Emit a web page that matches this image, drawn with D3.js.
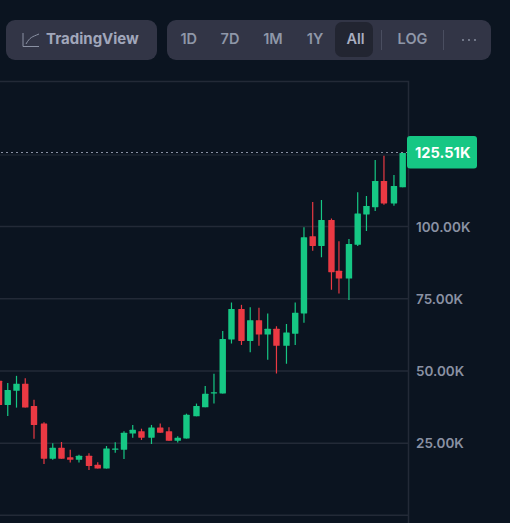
<!DOCTYPE html>
<html><head><meta charset="utf-8">
<script src="https://cdn.jsdelivr.net/npm/d3@7"></script>
<style>html,body{margin:0;padding:0;background:#0b1420;overflow:hidden}svg{display:block}text{font-family:Inter,sans-serif}</style>
</head><body><svg id="c" width="510" height="523"></svg>
<script>
const candleDay=[0,28,56,84,112,144,172,200,228,256,288,316,344,372,400,428,456,488,516,544,572,600,632,660,688,716,744,776,804,832,860,888,920,948,976,1004,1032,1064,1088,1120,1148,1176,1204,1232,1264,1292];
const openK=[46.6,38.2,43.1,45.6,37.9,31.8,19.6,23.4,20.1,19.2,20.6,17.5,16.2,22.7,22.7,28.3,29.1,26.9,30.4,29.1,25.8,26.6,34.3,37.4,42.2,42.2,60.9,71.5,60.4,67.6,62.6,64.6,58.7,62.9,69.9,96.7,93.3,102.3,84.7,82.0,93.7,104.2,106.7,115.8,108.0,113.6];
const closeK=[38.2,43.4,45.6,37.3,31.3,19.6,23.4,19.6,19.2,20.6,17.1,16.2,23.1,23.1,28.6,29.6,26.9,30.4,28.6,25.8,26.9,34.8,37.9,42.1,42.6,61.1,71.5,60.4,67.6,62.6,64.6,58.7,63.3,70.2,96.3,93.3,102.3,84.2,82.0,94.0,104.5,107.1,115.8,108.0,114.1,125.51];
const highK=[47.6,45.8,48.3,47.5,40.0,32.2,25.0,25.4,22.7,21.0,21.5,18.4,24.0,25.3,29.1,31.3,30.0,31.3,31.8,30.5,27.4,35.2,38.7,44.8,49.0,63.8,73.7,72.9,72.1,71.9,69.9,65.5,66.3,73.7,99.8,108.5,109.2,102.8,94.9,95.7,111.9,110.6,123.1,124.5,117.9,125.51];
const lowK=[37.2,34.4,37.3,37.3,26.5,17.8,19.2,19.6,18.3,18.3,15.7,16.2,16.2,21.7,19.5,26.9,26.1,24.7,28.6,25.8,25.2,26.6,34.3,37.4,38.7,42.2,59.5,59.0,56.5,58.7,53.9,49.1,52.5,59.0,66.7,91.6,89.4,78.1,76.8,74.6,93.3,98.5,105.4,107.6,107.2,113.6];
const yTicks=[25,50,75,100];
const rangeButtons=["1D","7D","1M","1Y","All"];
const lastPrice=125.51;
const fmtK=d=>d.toFixed(2)+"K";

const svg=d3.select("#c");
const x=d3.scaleLinear().domain([0,1292]).range([-1,402.7]);
const y=d3.scaleLinear().domain([0,100]).range([515.3,226.6]);
const frameR=408.5, frameT=81.5;
const up="#16c784", down="#ea3943", grid="#232a37", muted="#8a91a3";

// frame + grid
const g=svg.append("g");
g.append("path").attr("d",`M0,${frameT}H${frameR}V523`).attr("fill","none").attr("stroke",grid).attr("stroke-width",1.5);
g.append("line").attr("x1",0).attr("x2",frameR).attr("y1",515.3).attr("y2",515.3).attr("stroke",grid).attr("stroke-width",1.5);
g.selectAll("line.grid").data(yTicks).join("line").attr("x1",0).attr("x2",frameR)
  .attr("y1",d=>y(d)).attr("y2",d=>y(d)).attr("stroke",grid).attr("stroke-width",1.5);

// price line: faint solid rule with the dotted marker above it
g.append("line").attr("x1",0).attr("x2",frameR).attr("y1",155).attr("y2",155).attr("stroke",grid).attr("stroke-width",1);
g.append("line").attr("x1",1).attr("x2",frameR).attr("y1",152.5).attr("y2",152.5)
  .attr("stroke","#8a91a3").attr("stroke-width",1).attr("stroke-dasharray","2 3");

// candles
svg.append("clipPath").attr("id","pl").append("rect").attr("x",0).attr("y",frameT).attr("width",frameR-1).attr("height",440);
const cg=svg.append("g").attr("clip-path","url(#pl)");
const data=candleDay.map((d,i)=>({d,o:openK[i],c:closeK[i],h:highK[i],l:lowK[i]}));
const col=d=>d.c>=d.o?up:down;
cg.selectAll("line.w").data(data).join("line").attr("x1",d=>x(d.d)).attr("x2",d=>x(d.d))
  .attr("y1",d=>y(d.h)).attr("y2",d=>y(d.l)).attr("stroke",col).attr("stroke-width",1.2);
cg.selectAll("rect.b").data(data).join("rect").attr("x",d=>x(d.d)-3.2).attr("width",6.4)
  .attr("y",d=>y(Math.max(d.o,d.c))).attr("height",d=>Math.max(1.2,Math.abs(y(d.o)-y(d.c))))
  .attr("fill",col).attr("rx",.4);

// axis labels
svg.selectAll("text.t").data(yTicks).join("text").attr("x",416).attr("y",d=>y(d)+5)
  .attr("fill",muted).attr("font-size",13.5).attr("font-weight",600).text(d=>fmtK(d));

// price tag
svg.append("rect").attr("x",407).attr("y",136).attr("width",70).attr("height",32.5).attr("rx",3).attr("fill",up);
svg.append("text").attr("x",415).attr("y",157.5).attr("fill","#fff").attr("font-size",14.6).attr("font-weight",700).text(fmtK(lastPrice));

// toolbar
svg.append("rect").attr("x",6).attr("y",20).attr("width",151).attr("height",40).attr("rx",9).attr("fill","#323546");
svg.append("path").attr("d","M23,33V46.5H39 M26,44C30,37 32,37 39,34").attr("fill","none").attr("stroke",muted).attr("stroke-width",1);
svg.append("text").attr("x",46).attr("y",44).attr("fill","#a1a7bb").attr("font-size",15).attr("font-weight",700).text("TradingView");
svg.append("rect").attr("x",167).attr("y",20).attr("width",324).attr("height",40).attr("rx",9).attr("fill","#323546");
svg.append("rect").attr("x",335).attr("y",22).attr("width",38).attr("height",35).attr("rx",7).attr("fill","#222531");
const btnX=[188.7,230,273,315,355.5];
svg.selectAll("text.b").data(rangeButtons).join("text").attr("x",(d,i)=>btnX[i]).attr("y",44).attr("text-anchor","middle")
  .attr("fill",d=>d==="All"?"#a8aec0":"#8f97a8").attr("font-size",14.5).attr("font-weight",600).text(d=>d);
svg.append("text").attr("x",412.5).attr("y",44).attr("text-anchor","middle").attr("fill","#8f97a8").attr("font-size",14.5).attr("font-weight",600).text("LOG");
[381.5,443.5].forEach(p=>svg.append("line").attr("x1",p).attr("x2",p).attr("y1",30).attr("y2",50).attr("stroke","#4a4e60"));
[463,469,475].forEach(p=>svg.append("circle").attr("cx",p).attr("cy",40).attr("r",.9).attr("fill","#8f97a8"));
</script></body></html>
